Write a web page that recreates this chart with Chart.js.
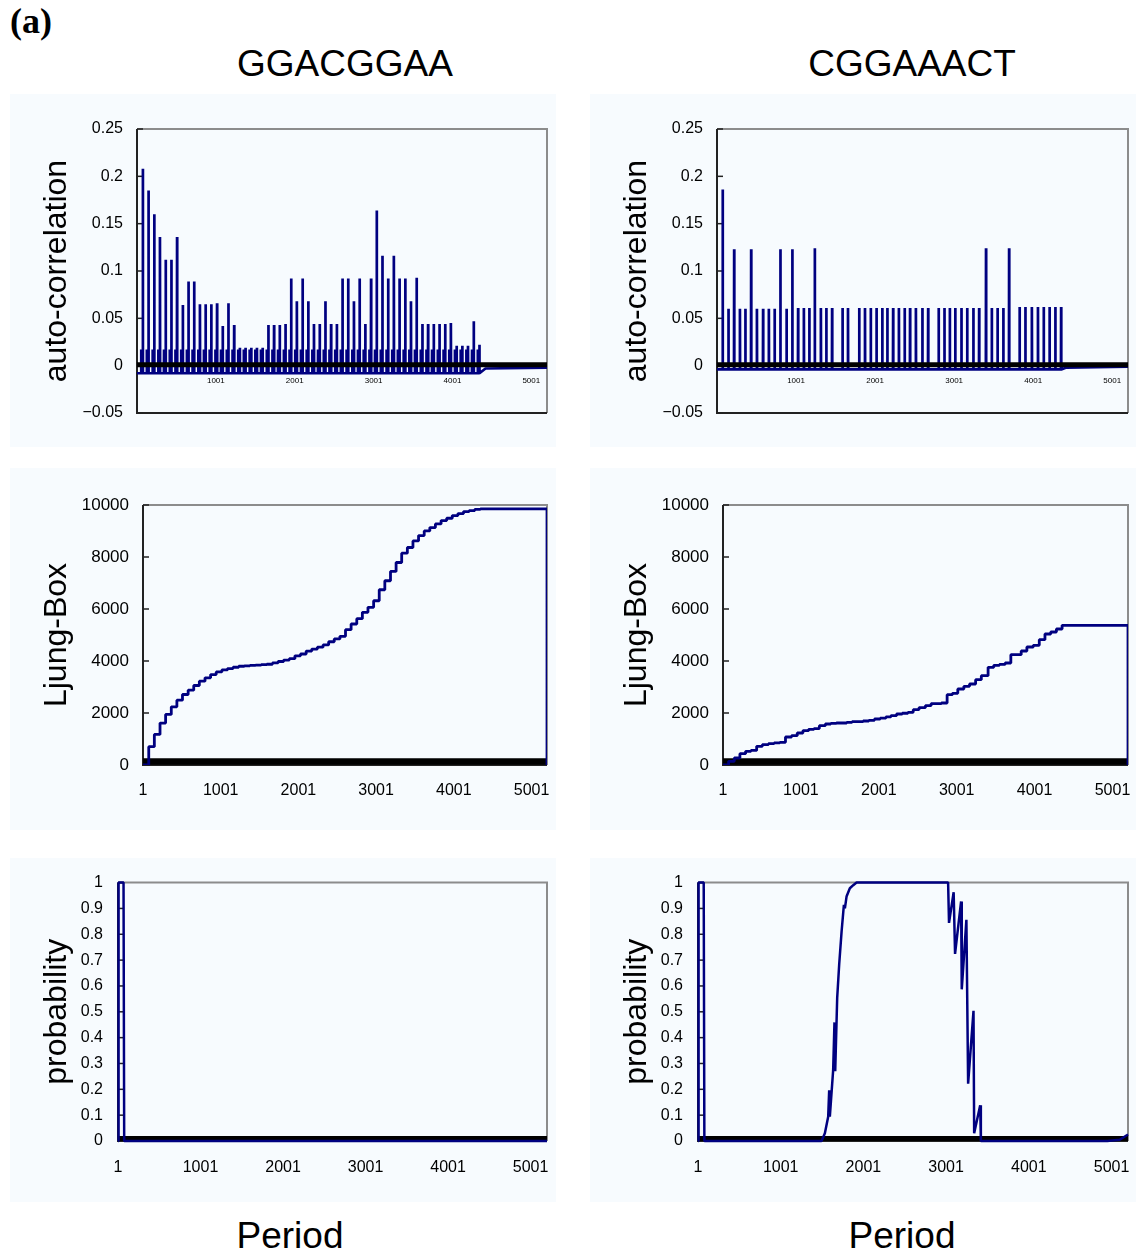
<!DOCTYPE html>
<html>
<head>
<meta charset="utf-8">
<script src="https://cdn.jsdelivr.net/npm/chart.js@4.4.0/dist/chart.umd.min.js"></script>
<style>
html,body{margin:0;padding:0;background:#ffffff;}
body{width:1136px;height:1254px;position:relative;overflow:hidden;font-family:"Liberation Sans",Arial,sans-serif;color:#000;}
.hdr{position:absolute;width:400px;text-align:center;font-size:37px;line-height:37px;white-space:nowrap;}
.lab{position:absolute;left:10px;top:3px;font-family:"Liberation Serif","Times New Roman",serif;font-weight:bold;font-size:36px;line-height:36px;}
canvas{position:absolute;background:#f7fbfe;}
</style>
</head>
<body>
<div class="lab">(a)</div>
<div class="hdr" style="left:145px;top:45px">GGACGGAA</div>
<div class="hdr" style="left:712px;top:45px">CGGAAACT</div>
<div class="hdr" style="left:90px;top:1217px">Period</div>
<div class="hdr" style="left:702px;top:1217px">Period</div>
<canvas id="cTL" width="546" height="353" style="left:10px;top:94px"></canvas>
<canvas id="cTR" width="546" height="353" style="left:590px;top:94px"></canvas>
<canvas id="cML" width="546" height="362" style="left:10px;top:468px"></canvas>
<canvas id="cMR" width="546" height="362" style="left:590px;top:468px"></canvas>
<canvas id="cBL" width="546" height="344" style="left:10px;top:858px"></canvas>
<canvas id="cBR" width="546" height="344" style="left:590px;top:858px"></canvas>
<script>
// ---------- axes ----------
const XMIN = 1, XMAX = 5200;
const xTickValues = [1, 1001, 2001, 3001, 4001, 5001];
const xTickLabels = ['1', '1001', '2001', '3001', '4001', '5001'];
const xTickValuesTop = [1001, 2001, 3001, 4001, 5001];
const xTickLabelsTop = ['1001', '2001', '3001', '4001', '5001'];
const acfTickValues = [-0.05, 0, 0.05, 0.1, 0.15, 0.2, 0.25];
const acfTickLabels = ['\u22120.05', '0', '0.05', '0.1', '0.15', '0.2', '0.25'];
const ljungTickValues = [0, 2000, 4000, 6000, 8000, 10000];
const ljungTickLabels = ['0', '2000', '4000', '6000', '8000', '10000'];
const probTickValues = [0, 0.1, 0.2, 0.3, 0.4, 0.5, 0.6, 0.7, 0.8, 0.9, 1];
const probTickLabels = ['0', '0.1', '0.2', '0.3', '0.4', '0.5', '0.6', '0.7', '0.8', '0.9', '1'];

// ---------- GGACGGAA ----------
const acfLeftLags = [75,147,220,292,365,437,509,582,654,726,799,871,943,1016,1088,1160,1233,1305,1377,1450,
  1522,1594,1667,1739,1811,1884,1956,2028,2101,2173,2245,2318,2390,2462,2535,2607,2679,2752,2824,2896,
  2969,3041,3113,3186,3258,3330,3403,3475,3547,3620,3692,3764,3837,3909,3981,4054,4126,4198,4271,4343];
const acfLeftPeaks = [0.208,0.185,0.160,0.136,0.112,0.112,0.136,0.064,0.089,0.089,
  0.065,0.065,0.065,0.066,0.042,0.066,0.043,0.019,0.019,0.019,
  0.019,0.019,0.043,0.043,0.043,0.044,0.092,0.068,0.092,0.068,
  0.044,0.044,0.068,0.044,0.044,0.092,0.092,0.068,0.092,0.044,
  0.092,0.164,0.116,0.092,0.116,0.092,0.092,0.068,0.093,0.044,
  0.044,0.044,0.044,0.044,0.045,0.021,0.021,0.021,0.047,0.022];
const acfLeftFoot = -0.008;
const acfLeftShoulder = 0.017;
const acfLeftTailLags = [4420, 5200];
const acfLeftTailVals = [-0.003, -0.002];
const ljungLeft = [703,1177,1612,1944,2238,2494,2711,2878,3057,3223,
  3351,3479,3581,3658,3709,3760,3799,3815,3830,3845,
  3860,3875,3927,3980,4035,4090,4200,4270,4380,4460,
  4530,4620,4740,4850,4950,5206,5423,5628,5871,6063,
  6318,6741,7086,7444,7789,8147,8365,8620,8825,9004,
  9132,9273,9401,9490,9592,9669,9746,9784,9835,9848];
const probLeftLags = [1, 8, 68, 76, 5200];
const probLeftVals = [0, 1, 1, 0, 0];

// ---------- CGGAAACT ----------
const acfRightLags = [73,146,218,291,360,433,506,584,657,730,803,881,954,1027,1100,1169,1238,1315,1384,1457,
  1589,1658,1800,1873,1946,2019,2092,2156,2229,2302,2375,2443,2517,2599,2672,
  2805,2878,2946,3015,3093,3166,3244,3317,3404,3477,3550,3623,3696,
  3829,3902,3984,4061,4134,4208,4281,4354];
const acfRightPeaks = [0.186,0.060,0.123,0.060,0.060,0.123,0.060,0.060,0.060,0.060,
  0.123,0.060,0.123,0.061,0.061,0.061,0.124,0.061,0.061,0.061,
  0.061,0.061,0.061,0.061,0.061,0.061,0.061,0.061,0.061,0.061,
  0.061,0.061,0.061,0.061,0.061,0.061,0.061,0.061,0.061,0.061,
  0.061,0.061,0.061,0.124,0.061,0.061,0.061,0.124,0.062,0.062,
  0.062,0.062,0.062,0.062,0.062,0.062];
const acfRightFoot = -0.004;
const acfRightTailLags = [4420, 5200];
const acfRightTailVals = [-0.002, -0.001];
const ljungRight = [141,269,436,526,560,718,782,820,850,872,
  1077,1128,1231,1320,1372,1400,1513,1577,1600,1615,
  1640,1667,1692,1720,1769,1800,1850,1897,1962,1990,
  2026,2128,2205,2282,2359,2385,2705,2756,2923,3026,
  3115,3282,3436,3756,3833,3870,3923,4243,4384,4538,
  4602,4820,5038,5115,5231,5372];
const probRightLags = [1,8,70,78,1495,1535,1575,1587,1595,1635,1651,1660,1684,1708,1737,1765,1777,1797,1837,1878,1918,
  3025,3036,3092,3109,3182,3190,3246,3267,3332,3340,3413,3421,4950,5100,5200];
const probRightVals = [0,1,1,0,0,0.03,0.094,0.196,0.094,0.273,0.459,0.27,0.555,0.683,0.81,0.914,0.90,0.946,0.978,0.99,1,
  1,0.844,0.963,0.724,0.927,0.587,0.856,0.222,0.504,0.03,0.138,0,0,0.005,0.025];

// reference "zero" band (thick black series)
const acfBand = 0.001, ljungBand = 130, probBand = 0.0096;

// ---------- helpers ----------
const NAVY = '#000080';
Chart.defaults.font.family = '"Liberation Sans", Arial, sans-serif';
Chart.defaults.color = '#000';

function spikePoints(lags, peaks, foot, shoulder, tailLags, tailVals) {
  const pts = [{x: XMIN, y: foot}];
  lags.forEach((L, i) => {
    if (shoulder !== null) {
      pts.push({x: L - 23, y: foot}, {x: L - 21, y: shoulder}, {x: L - 19, y: foot});
    }
    pts.push({x: L - 2, y: foot}, {x: L, y: peaks[i]}, {x: L + 2, y: foot});
  });
  tailLags.forEach((L, i) => pts.push({x: L, y: tailVals[i]}));
  return pts;
}
function stepPoints(lags, vals) {
  const pts = [{x: XMIN, y: 0}];
  lags.forEach((L, i) => pts.push({x: L, y: vals[i]}));
  const last = vals[vals.length - 1];
  pts.push({x: XMAX, y: last}, {x: XMAX, y: 0});
  return pts;
}
function linePoints(lags, vals) { return lags.map((L, i) => ({x: L, y: vals[i]})); }
function bandPoints(v) { return [{x: XMIN, y: v}, {x: XMAX, y: v}]; }

const framePlugin = {
  id: 'frame',
  beforeDatasetsDraw(chart) {
    const {ctx, chartArea: a} = chart;
    const y = chart.scales.y;
    ctx.save();
    ctx.strokeStyle = '#8c8c8c'; ctx.lineWidth = 2;
    ctx.beginPath(); ctx.moveTo(a.left, a.top); ctx.lineTo(a.right, a.top); ctx.lineTo(a.right, a.bottom); ctx.stroke();
    ctx.strokeStyle = '#222'; ctx.lineWidth = 2;
    ctx.beginPath(); ctx.moveTo(a.right, a.bottom); ctx.lineTo(a.left, a.bottom); ctx.lineTo(a.left, a.top); ctx.stroke();
    ctx.lineWidth = 1.5;
    y.ticks.forEach(t => {
      const py = y.getPixelForValue(t.value);
      ctx.beginPath(); ctx.moveTo(a.left, py); ctx.lineTo(a.left + 6, py); ctx.stroke();
    });
    ctx.restore();
  }
};

function makeChart(id, cfg, datasets) {
  return new Chart(document.getElementById(id), {
    type: 'line',
    data: {datasets},
    plugins: [framePlugin],
    options: {
      responsive: false, animation: false, events: [],
      layout: {padding: {left: 0, right: cfg.padRight, top: cfg.padTop, bottom: cfg.padBottom}},
      plugins: {legend: {display: false}, tooltip: {enabled: false}},
      elements: {point: {radius: 0}, line: {tension: 0, borderJoinStyle: 'bevel'}},
      scales: {
        x: {
          type: 'linear', min: XMIN, max: XMAX, position: cfg.xPos,
          grid: {display: false, drawTicks: false}, border: {display: false},
          ticks: {autoSkip: false, maxRotation: 0, minRotation: 0, padding: cfg.xPad,
                  font: {size: cfg.xFont}, color: '#000', callback: (v, i) => cfg.xLabels[i]},
          afterBuildTicks: s => { s.ticks = cfg.xValues.map(v => ({value: v})); },
          afterFit: s => { s.height = cfg.xHeight; s.paddingLeft = 0; s.paddingRight = 0; }
        },
        y: {
          type: 'linear', min: cfg.yMin, max: cfg.yMax,
          grid: {display: false, drawTicks: false}, border: {display: false},
          ticks: {autoSkip: false, padding: cfg.yPad, font: {size: cfg.yFont}, color: '#000',
                  callback: (v, i) => cfg.yLabels[i]},
          afterBuildTicks: s => { s.ticks = cfg.yValues.map(v => ({value: v})); },
          afterFit: s => { s.width = cfg.yWidth; },
          title: {display: true, text: cfg.title, color: '#000', font: {size: 32},
                  padding: {top: 28, bottom: 0}}
        }
      }
    }
  });
}

const topCfg = (padRight) => ({
  padRight, padTop: 35, padBottom: 34, xPos: {y: 0}, xPad: 10, xFont: 8,
  xLabels: xTickLabelsTop, xValues: xTickValuesTop, xHeight: 20,
  yMin: -0.05, yMax: 0.25, yValues: acfTickValues, yLabels: acfTickLabels,
  yPad: 14, yFont: 16, yWidth: 127, title: 'auto-correlation'
});
const midCfg = (padRight) => ({
  padRight, padTop: 37, padBottom: 0, xPos: 'bottom', xPad: 16, xFont: 16,
  xLabels: xTickLabels, xValues: xTickValues, xHeight: 65,
  yMin: 0, yMax: 10000, yValues: ljungTickValues, yLabels: ljungTickLabels,
  yPad: 14, yFont: 17, yWidth: 133, title: 'Ljung-Box'
});
const botCfg = (padRight) => ({
  padRight, padTop: 23, padBottom: 0, xPos: 'bottom', xPad: 17, xFont: 16,
  xLabels: xTickLabels, xValues: xTickValues, xHeight: 61,
  yMin: 0, yMax: 1, yValues: probTickValues, yLabels: probTickLabels,
  yPad: 15, yFont: 16, yWidth: 108, title: 'probability'
});

// top row: black band drawn over the spikes
makeChart('cTL', topCfg(9), [
  {data: bandPoints(acfBand), borderColor: '#000', borderWidth: 5},
  {data: spikePoints(acfLeftLags, acfLeftPeaks, acfLeftFoot, acfLeftShoulder, acfLeftTailLags, acfLeftTailVals),
   borderColor: NAVY, borderWidth: 2.7}
]);
makeChart('cTR', topCfg(8), [
  {data: bandPoints(acfBand), borderColor: '#000', borderWidth: 5},
  {data: spikePoints(acfRightLags, acfRightPeaks, acfRightFoot, null, acfRightTailLags, acfRightTailVals),
   borderColor: NAVY, borderWidth: 2.7}
]);
// middle row
makeChart('cML', midCfg(9), [
  {data: stepPoints(acfLeftLags, ljungLeft), stepped: true, borderColor: NAVY, borderWidth: 2.8},
  {data: bandPoints(ljungBand), borderColor: '#000', borderWidth: 6.5}
]);
makeChart('cMR', midCfg(8), [
  {data: stepPoints(acfRightLags, ljungRight), stepped: true, borderColor: NAVY, borderWidth: 2.8},
  {data: bandPoints(ljungBand), borderColor: '#000', borderWidth: 6.5}
]);
// bottom row
makeChart('cBL', botCfg(9), [
  {data: linePoints(probLeftLags, probLeftVals), borderColor: NAVY, borderWidth: 2.5, clip: 3},
  {data: bandPoints(probBand), borderColor: '#000', borderWidth: 5}
]);
makeChart('cBR', botCfg(8), [
  {data: linePoints(probRightLags, probRightVals), borderColor: NAVY, borderWidth: 2.5, clip: 3},
  {data: bandPoints(probBand), borderColor: '#000', borderWidth: 5}
]);
</script>
</body>
</html>
